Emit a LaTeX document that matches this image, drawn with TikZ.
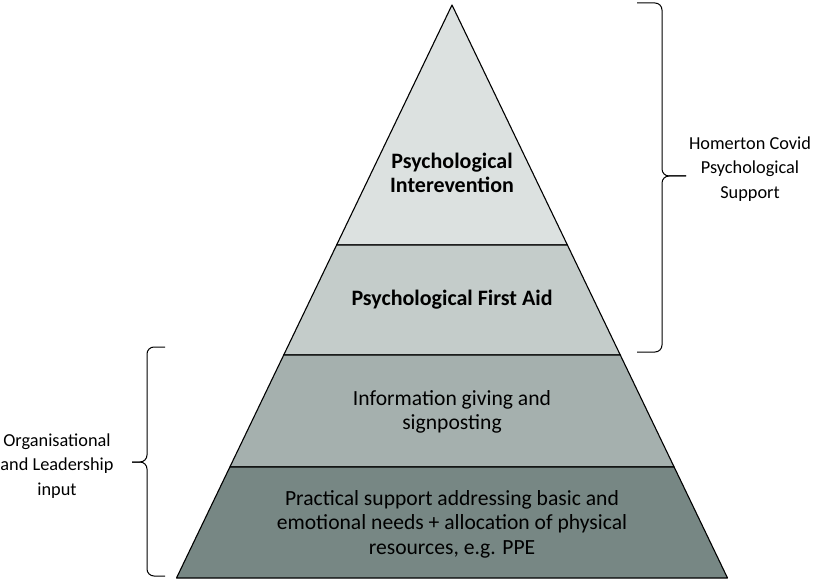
\documentclass[tikz,border=0pt]{standalone}
\usepackage{fontspec}
\setmainfont{Carlito}
\usepackage{xcolor}
\definecolor{TierTop}   {HTML}{DCE1E0}
\definecolor{TierFirst} {HTML}{C4CCCA}
\definecolor{TierInfo}  {HTML}{A5B0AE}
\definecolor{TierBase}  {HTML}{778784}
\usetikzlibrary{calc}

\begin{document}
\begin{tikzpicture}[x=1pt,y=-1pt,
  tier/.style={draw=black,line width=1.1pt,line join=round},
  tierlabel/.style={align=center,font=\fontsize{21.6}{24.5}\selectfont},
  boldlabel/.style={align=center,font=\fontsize{22}{23.5}\selectfont\bfseries},
  sidelabel/.style={align=center,font=\fontsize{18.3}{24.5}\selectfont},
  bracepath/.style={draw=black,line width=1pt,rounded corners=7pt}]
  \useasboundingbox (0,0) rectangle (819,580);
  % Pyramid corners
  \coordinate (apex) at (452,5);
  \coordinate (bl) at (176.5,578);
  \coordinate (br) at (727.5,578);
  % Tier boundaries
  \coordinate (l1) at ($(apex)!0.4188!(bl)$);
  \coordinate (r1) at ($(apex)!0.4188!(br)$);
  \coordinate (l2) at ($(apex)!0.6108!(bl)$);
  \coordinate (r2) at ($(apex)!0.6108!(br)$);
  \coordinate (l3) at ($(apex)!0.8063!(bl)$);
  \coordinate (r3) at ($(apex)!0.8063!(br)$);
  % Tiers
  \filldraw[tier,fill=TierTop]   (apex) -- (r1) -- (l1) -- cycle;
  \filldraw[tier,fill=TierFirst] (l1) -- (r1) -- (r2) -- (l2) -- cycle;
  \filldraw[tier,fill=TierInfo]  (l2) -- (r2) -- (r3) -- (l3) -- cycle;
  \filldraw[tier,fill=TierBase]  (l3) -- (r3) -- (br) -- (bl) -- cycle;
  % Tier labels
  \node[boldlabel] (intervention) at (452,173)
    {Psychological\\Interevention};
  \node[boldlabel] (firstaid) at (452,300) {Psychological First Aid};
  \node[tierlabel] (info) at (452,412)
    {Information giving and\\signposting};
  \node[tierlabel] (practical) at (452,524)
    {Practical support addressing basic and\\emotional needs + allocation of physical\\resources, e.g. PPE};
  % Right brace
  \coordinate (rtop) at (637,3);
  \coordinate (rbot) at (637,352);
  \coordinate (rtip) at (686,176);
  \draw[bracepath] (rtop) -- (662,3) -- (662,176) -- (rtip);
  \draw[bracepath] (rbot) -- (662,352) -- (662,176) -- (rtip);
  \node[sidelabel] (homerton) at (750,169)
    {Homerton Covid\\Psychological\\Support};
  % Left brace
  \coordinate (ltop) at (165,347);
  \coordinate (lbot) at (165,576);
  \coordinate (ltip) at (132,462);
  \draw[bracepath] (ltop) -- (147,347) -- (147,462) -- (ltip);
  \draw[bracepath] (lbot) -- (147,576) -- (147,462) -- (ltip);
  \node[sidelabel] (org) at (57,466)
    {Organisational\\and Leadership\\input};
\end{tikzpicture}
\end{document}
